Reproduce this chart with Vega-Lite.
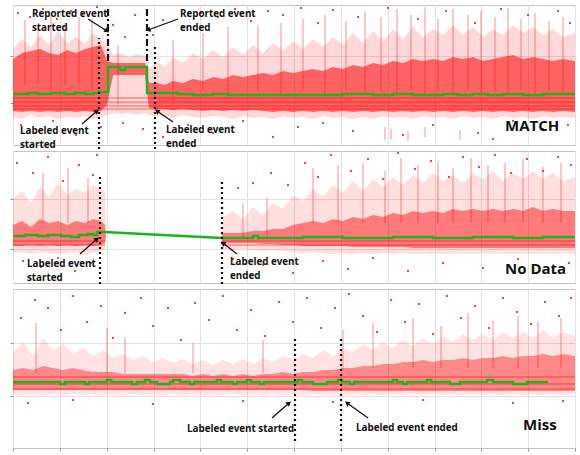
{
"$schema": "https://vega.github.io/schema/vega-lite/v6.json",
"padding": {"left": 7, "top": 4, "right": 5, "bottom": 5},
"bounds": "flush",
"spacing": 6,
"config": {
  "view": {"stroke": "#c4c4c4", "strokeWidth": 1},
  "axis": {"gridColor": "#e2e2e2", "gridWidth": 1, "tickColor": "#999999", "domain": false, "labels": false, "ticks": false},
  "font": "Open Sans"
},
"datasets": {
  "env": [
    {"p":1,"x":0,"hi":96,"lo":28,"chi":86,"clo":34},{"p":1,"x":9,"hi":106,"lo":26,"chi":92,"clo":33},{"p":1,"x":18,"hi":98,"lo":30,"chi":94,"clo":34},{"p":1,"x":27,"hi":110,"lo":27,"chi":96,"clo":33},{"p":1,"x":36,"hi":100,"lo":29,"chi":92,"clo":34},{"p":1,"x":45,"hi":114,"lo":26,"chi":90,"clo":33},{"p":1,"x":54,"hi":102,"lo":28,"chi":95,"clo":34},{"p":1,"x":63,"hi":108,"lo":27,"chi":92,"clo":33},{"p":1,"x":72,"hi":101,"lo":29,"chi":96,"clo":34},{"p":1,"x":80,"hi":112,"lo":26,"chi":98,"clo":33},{"p":1,"x":88,"hi":106,"lo":28,"chi":100,"clo":34},{"p":1,"x":94,"hi":100,"lo":30,"chi":84,"clo":40},{"p":1,"x":100,"hi":90,"lo":32,"chi":82,"clo":70},{"p":1,"x":108,"hi":92,"lo":31,"chi":82,"clo":70},{"p":1,"x":116,"hi":88,"lo":32,"chi":82,"clo":70},{"p":1,"x":124,"hi":91,"lo":30,"chi":82,"clo":70},{"p":1,"x":132,"hi":89,"lo":32,"chi":82,"clo":70},{"p":1,"x":136,"hi":76,"lo":30,"chi":62,"clo":37},{"p":1,"x":144,"hi":84,"lo":28,"chi":62,"clo":36},{"p":1,"x":152,"hi":78,"lo":29,"chi":60,"clo":36},{"p":1,"x":160,"hi":88,"lo":27,"chi":64,"clo":35},{"p":1,"x":170,"hi":82,"lo":30,"chi":62,"clo":36},{"p":1,"x":180,"hi":92,"lo":28,"chi":66,"clo":35},{"p":1,"x":190,"hi":86,"lo":27,"chi":64,"clo":34},{"p":1,"x":200,"hi":95,"lo":29,"chi":68,"clo":35},{"p":1,"x":210,"hi":88,"lo":28,"chi":66,"clo":34},{"p":1,"x":220,"hi":98,"lo":26,"chi":70,"clo":35},{"p":1,"x":230,"hi":90,"lo":29,"chi":68,"clo":34},{"p":1,"x":240,"hi":100,"lo":27,"chi":70,"clo":35},{"p":1,"x":250,"hi":92,"lo":28,"chi":72,"clo":34},{"p":1,"x":260,"hi":102,"lo":26,"chi":70,"clo":33},{"p":1,"x":270,"hi":94,"lo":29,"chi":74,"clo":34},{"p":1,"x":280,"hi":104,"lo":27,"chi":72,"clo":33},{"p":1,"x":290,"hi":96,"lo":28,"chi":74,"clo":34},{"p":1,"x":300,"hi":106,"lo":26,"chi":76,"clo":33},{"p":1,"x":310,"hi":98,"lo":29,"chi":74,"clo":34},{"p":1,"x":320,"hi":108,"lo":27,"chi":78,"clo":33},{"p":1,"x":330,"hi":100,"lo":28,"chi":76,"clo":34},{"p":1,"x":340,"hi":112,"lo":26,"chi":80,"clo":33},{"p":1,"x":350,"hi":102,"lo":28,"chi":78,"clo":34},{"p":1,"x":360,"hi":114,"lo":26,"chi":82,"clo":33},{"p":1,"x":370,"hi":104,"lo":29,"chi":80,"clo":34},{"p":1,"x":380,"hi":116,"lo":27,"chi":84,"clo":33},{"p":1,"x":390,"hi":106,"lo":28,"chi":82,"clo":34},{"p":1,"x":400,"hi":118,"lo":26,"chi":86,"clo":33},{"p":1,"x":410,"hi":108,"lo":29,"chi":84,"clo":34},{"p":1,"x":420,"hi":116,"lo":27,"chi":86,"clo":33},{"p":1,"x":430,"hi":110,"lo":28,"chi":84,"clo":34},{"p":1,"x":440,"hi":120,"lo":26,"chi":88,"clo":33},{"p":1,"x":450,"hi":110,"lo":29,"chi":86,"clo":34},{"p":1,"x":460,"hi":118,"lo":27,"chi":88,"clo":33},{"p":1,"x":470,"hi":108,"lo":28,"chi":84,"clo":34},{"p":1,"x":480,"hi":116,"lo":26,"chi":86,"clo":33},{"p":1,"x":490,"hi":110,"lo":29,"chi":88,"clo":34},{"p":1,"x":500,"hi":120,"lo":27,"chi":90,"clo":33},{"p":1,"x":510,"hi":112,"lo":28,"chi":86,"clo":34},{"p":1,"x":520,"hi":118,"lo":26,"chi":88,"clo":33},{"p":1,"x":530,"hi":110,"lo":29,"chi":86,"clo":34},{"p":1,"x":540,"hi":116,"lo":27,"chi":84,"clo":33},{"p":1,"x":550,"hi":108,"lo":28,"chi":86,"clo":34},{"p":1,"x":562,"hi":112,"lo":27,"chi":84,"clo":33},
    {"p":2,"x":0,"hi":84,"lo":30,"chi":58,"clo":37},{"p":2,"x":9,"hi":92,"lo":31,"chi":62,"clo":37},{"p":2,"x":18,"hi":80,"lo":29,"chi":56,"clo":38},{"p":2,"x":27,"hi":96,"lo":30,"chi":64,"clo":37},{"p":2,"x":36,"hi":86,"lo":31,"chi":60,"clo":38},{"p":2,"x":45,"hi":100,"lo":29,"chi":62,"clo":37},{"p":2,"x":54,"hi":88,"lo":30,"chi":58,"clo":38},{"p":2,"x":63,"hi":94,"lo":31,"chi":62,"clo":37},{"p":2,"x":72,"hi":90,"lo":29,"chi":60,"clo":38},{"p":2,"x":80,"hi":98,"lo":30,"chi":64,"clo":37},{"p":2,"x":88,"hi":94,"lo":32,"chi":62,"clo":38},{"p":2,"x":92,"hi":90,"lo":34,"chi":58,"clo":40},{"p":2,"x":93,"hi":46,"lo":46,"chi":46,"clo":46},{"p":2,"x":208,"hi":46,"lo":46,"chi":46,"clo":46},{"p":2,"x":210,"hi":66,"lo":34,"chi":50,"clo":40},{"p":2,"x":220,"hi":72,"lo":33,"chi":50,"clo":40},{"p":2,"x":230,"hi":64,"lo":34,"chi":50,"clo":40},{"p":2,"x":240,"hi":76,"lo":33,"chi":52,"clo":40},{"p":2,"x":250,"hi":68,"lo":32,"chi":52,"clo":39},{"p":2,"x":260,"hi":80,"lo":33,"chi":54,"clo":39},{"p":2,"x":270,"hi":74,"lo":32,"chi":54,"clo":38},{"p":2,"x":280,"hi":88,"lo":31,"chi":58,"clo":38},{"p":2,"x":290,"hi":82,"lo":30,"chi":60,"clo":37},{"p":2,"x":300,"hi":94,"lo":31,"chi":62,"clo":37},{"p":2,"x":310,"hi":86,"lo":30,"chi":60,"clo":37},{"p":2,"x":320,"hi":98,"lo":29,"chi":64,"clo":37},{"p":2,"x":330,"hi":90,"lo":30,"chi":62,"clo":37},{"p":2,"x":340,"hi":102,"lo":29,"chi":66,"clo":36},{"p":2,"x":350,"hi":92,"lo":30,"chi":64,"clo":36},{"p":2,"x":360,"hi":104,"lo":29,"chi":68,"clo":36},{"p":2,"x":370,"hi":96,"lo":30,"chi":66,"clo":36},{"p":2,"x":380,"hi":106,"lo":29,"chi":70,"clo":36},{"p":2,"x":390,"hi":98,"lo":30,"chi":68,"clo":36},{"p":2,"x":400,"hi":108,"lo":29,"chi":72,"clo":35},{"p":2,"x":410,"hi":100,"lo":30,"chi":70,"clo":35},{"p":2,"x":420,"hi":110,"lo":29,"chi":72,"clo":35},{"p":2,"x":430,"hi":102,"lo":30,"chi":70,"clo":35},{"p":2,"x":440,"hi":108,"lo":29,"chi":74,"clo":35},{"p":2,"x":450,"hi":100,"lo":30,"chi":72,"clo":35},{"p":2,"x":460,"hi":110,"lo":29,"chi":74,"clo":35},{"p":2,"x":470,"hi":104,"lo":30,"chi":72,"clo":35},{"p":2,"x":480,"hi":112,"lo":29,"chi":74,"clo":35},{"p":2,"x":490,"hi":102,"lo":30,"chi":72,"clo":35},{"p":2,"x":500,"hi":110,"lo":29,"chi":74,"clo":35},{"p":2,"x":510,"hi":104,"lo":30,"chi":72,"clo":35},{"p":2,"x":520,"hi":112,"lo":29,"chi":76,"clo":35},{"p":2,"x":530,"hi":104,"lo":30,"chi":72,"clo":35},{"p":2,"x":540,"hi":110,"lo":29,"chi":74,"clo":35},{"p":2,"x":550,"hi":102,"lo":30,"chi":72,"clo":35},{"p":2,"x":562,"hi":106,"lo":29,"chi":72,"clo":35},
    {"p":3,"x":0,"hi":96,"lo":54,"chi":78,"clo":58},{"p":3,"x":10,"hi":106,"lo":53,"chi":80,"clo":58},{"p":3,"x":20,"hi":92,"lo":54,"chi":78,"clo":58},{"p":3,"x":30,"hi":110,"lo":53,"chi":82,"clo":58},{"p":3,"x":40,"hi":98,"lo":54,"chi":80,"clo":58},{"p":3,"x":50,"hi":104,"lo":53,"chi":78,"clo":58},{"p":3,"x":60,"hi":94,"lo":54,"chi":80,"clo":58},{"p":3,"x":70,"hi":100,"lo":53,"chi":78,"clo":58},{"p":3,"x":80,"hi":92,"lo":54,"chi":76,"clo":58},{"p":3,"x":90,"hi":98,"lo":53,"chi":76,"clo":58},{"p":3,"x":100,"hi":90,"lo":54,"chi":76,"clo":58},{"p":3,"x":110,"hi":94,"lo":53,"chi":74,"clo":58},{"p":3,"x":120,"hi":88,"lo":54,"chi":74,"clo":58},{"p":3,"x":130,"hi":92,"lo":53,"chi":74,"clo":58},{"p":3,"x":140,"hi":86,"lo":54,"chi":74,"clo":58},{"p":3,"x":150,"hi":90,"lo":53,"chi":74,"clo":58},{"p":3,"x":160,"hi":85,"lo":54,"chi":74,"clo":58},{"p":3,"x":170,"hi":89,"lo":53,"chi":74,"clo":58},{"p":3,"x":180,"hi":84,"lo":54,"chi":72,"clo":58},{"p":3,"x":190,"hi":88,"lo":53,"chi":74,"clo":58},{"p":3,"x":200,"hi":83,"lo":54,"chi":72,"clo":58},{"p":3,"x":210,"hi":88,"lo":53,"chi":74,"clo":58},{"p":3,"x":220,"hi":84,"lo":54,"chi":72,"clo":58},{"p":3,"x":230,"hi":89,"lo":53,"chi":74,"clo":58},{"p":3,"x":240,"hi":84,"lo":54,"chi":72,"clo":58},{"p":3,"x":250,"hi":90,"lo":53,"chi":74,"clo":58},{"p":3,"x":260,"hi":86,"lo":54,"chi":74,"clo":58},{"p":3,"x":270,"hi":92,"lo":53,"chi":76,"clo":58},{"p":3,"x":280,"hi":88,"lo":54,"chi":74,"clo":58},{"p":3,"x":290,"hi":94,"lo":53,"chi":76,"clo":58},{"p":3,"x":300,"hi":90,"lo":54,"chi":76,"clo":57},{"p":3,"x":310,"hi":98,"lo":53,"chi":78,"clo":57},{"p":3,"x":320,"hi":92,"lo":54,"chi":78,"clo":57},{"p":3,"x":330,"hi":100,"lo":53,"chi":80,"clo":57},{"p":3,"x":340,"hi":96,"lo":54,"chi":80,"clo":57},{"p":3,"x":350,"hi":104,"lo":53,"chi":82,"clo":57},{"p":3,"x":360,"hi":98,"lo":54,"chi":82,"clo":57},{"p":3,"x":370,"hi":106,"lo":53,"chi":84,"clo":57},{"p":3,"x":380,"hi":100,"lo":54,"chi":84,"clo":57},{"p":3,"x":390,"hi":108,"lo":53,"chi":86,"clo":57},{"p":3,"x":400,"hi":102,"lo":54,"chi":86,"clo":57},{"p":3,"x":410,"hi":110,"lo":53,"chi":88,"clo":57},{"p":3,"x":420,"hi":104,"lo":54,"chi":86,"clo":57},{"p":3,"x":430,"hi":112,"lo":53,"chi":88,"clo":57},{"p":3,"x":440,"hi":106,"lo":54,"chi":88,"clo":57},{"p":3,"x":450,"hi":114,"lo":53,"chi":90,"clo":57},{"p":3,"x":460,"hi":108,"lo":54,"chi":88,"clo":57},{"p":3,"x":470,"hi":114,"lo":53,"chi":90,"clo":57},{"p":3,"x":480,"hi":108,"lo":54,"chi":90,"clo":57},{"p":3,"x":490,"hi":116,"lo":53,"chi":92,"clo":57},{"p":3,"x":500,"hi":110,"lo":54,"chi":90,"clo":57},{"p":3,"x":510,"hi":116,"lo":53,"chi":92,"clo":57},{"p":3,"x":520,"hi":110,"lo":54,"chi":92,"clo":57},{"p":3,"x":530,"hi":118,"lo":53,"chi":94,"clo":57},{"p":3,"x":540,"hi":110,"lo":54,"chi":92,"clo":57},{"p":3,"x":550,"hi":116,"lo":53,"chi":94,"clo":57},{"p":3,"x":562,"hi":112,"lo":54,"chi":92,"clo":57}
  ],
  "streaks": [
    {"p":1,"x":0,"x2":562,"y":47},{"p":1,"x":0,"x2":562,"y":43},{"p":1,"x":0,"x2":562,"y":39},{"p":1,"x":0,"x2":562,"y":36},
    {"p":2,"x":0,"x2":92,"y":42},{"p":2,"x":0,"x2":92,"y":38},{"p":2,"x":209,"x2":562,"y":42},{"p":2,"x":209,"x2":562,"y":38},
    {"p":3,"x":0,"x2":562,"y":71},{"p":3,"x":0,"x2":562,"y":64},{"p":3,"x":0,"x2":562,"y":59}
  ],
  "spikes": [
    {"p":1,"x":12,"y":60,"y2":125},{"p":1,"x":25,"y":60,"y2":118},{"p":1,"x":38,"y":55,"y2":130},{"p":1,"x":52,"y":60,"y2":122},{"p":1,"x":66,"y":60,"y2":128},{"p":1,"x":79,"y":55,"y2":126},{"p":1,"x":105,"y":40,"y2":100},{"p":1,"x":160,"y":45,"y2":105},{"p":1,"x":190,"y":55,"y2":112},{"p":1,"x":215,"y":50,"y2":118},{"p":1,"x":245,"y":55,"y2":120},{"p":1,"x":268,"y":50,"y2":122},{"p":1,"x":290,"y":55,"y2":126},{"p":1,"x":312,"y":50,"y2":130},{"p":1,"x":333,"y":55,"y2":124},{"p":1,"x":352,"y":50,"y2":134},{"p":1,"x":368,"y":55,"y2":128},{"p":1,"x":384,"y":50,"y2":136},{"p":1,"x":398,"y":55,"y2":130},{"p":1,"x":412,"y":50,"y2":138},{"p":1,"x":425,"y":55,"y2":126},{"p":1,"x":440,"y":50,"y2":136},{"p":1,"x":455,"y":55,"y2":130},{"p":1,"x":468,"y":50,"y2":134},{"p":1,"x":482,"y":55,"y2":128},{"p":1,"x":495,"y":50,"y2":137},{"p":1,"x":508,"y":55,"y2":126},{"p":1,"x":522,"y":50,"y2":132},{"p":1,"x":536,"y":55,"y2":124},{"p":1,"x":550,"y":50,"y2":128},
    {"p":1,"x":372,"y":5,"y2":18},{"p":1,"x":378,"y":6,"y2":16},{"p":1,"x":395,"y":4,"y2":14},{"p":1,"x":412,"y":8,"y2":18},{"p":1,"x":447,"y":5,"y2":15},
    {"p":2,"x":30,"y":60,"y2":110},{"p":2,"x":55,"y":60,"y2":115},{"p":2,"x":75,"y":60,"y2":105},{"p":2,"x":230,"y":45,"y2":80},{"p":2,"x":254,"y":45,"y2":85},{"p":2,"x":300,"y":60,"y2":115},{"p":2,"x":325,"y":60,"y2":118},{"p":2,"x":350,"y":60,"y2":120},{"p":2,"x":372,"y":60,"y2":112},{"p":2,"x":388,"y":60,"y2":125},{"p":2,"x":405,"y":60,"y2":118},{"p":2,"x":425,"y":60,"y2":122},{"p":2,"x":440,"y":60,"y2":115},{"p":2,"x":458,"y":60,"y2":125},{"p":2,"x":475,"y":60,"y2":118},{"p":2,"x":492,"y":60,"y2":120},{"p":2,"x":510,"y":60,"y2":124},{"p":2,"x":530,"y":60,"y2":116},{"p":2,"x":548,"y":60,"y2":120},
    {"p":3,"x":23,"y":75,"y2":125},{"p":3,"x":94,"y":75,"y2":120},{"p":3,"x":112,"y":75,"y2":110},{"p":3,"x":180,"y":75,"y2":105},{"p":3,"x":250,"y":75,"y2":108},{"p":3,"x":330,"y":78,"y2":118},{"p":3,"x":360,"y":80,"y2":125},{"p":3,"x":400,"y":80,"y2":130},{"p":3,"x":428,"y":80,"y2":122},{"p":3,"x":455,"y":80,"y2":135},{"p":3,"x":480,"y":80,"y2":128},{"p":3,"x":505,"y":80,"y2":132},{"p":3,"x":525,"y":80,"y2":126},{"p":3,"x":548,"y":80,"y2":130}
  ],
  "pts": [
    {"p":1,"x":5,"y":132},{"p":1,"x":17,"y":128},{"p":1,"x":30,"y":136},{"p":1,"x":44,"y":126},{"p":1,"x":58,"y":134},{"p":1,"x":70,"y":131},{"p":1,"x":84,"y":138},{"p":1,"x":100,"y":120},{"p":1,"x":112,"y":108},{"p":1,"x":122,"y":130},{"p":1,"x":140,"y":110},{"p":1,"x":150,"y":125},{"p":1,"x":170,"y":118},{"p":1,"x":188,"y":132},{"p":1,"x":205,"y":128},{"p":1,"x":222,"y":136},{"p":1,"x":238,"y":124},{"p":1,"x":255,"y":134},{"p":1,"x":270,"y":130},{"p":1,"x":288,"y":137},{"p":1,"x":305,"y":122},{"p":1,"x":320,"y":135},{"p":1,"x":345,"y":128},{"p":1,"x":375,"y":137},{"p":1,"x":405,"y":126},{"p":1,"x":433,"y":134},{"p":1,"x":462,"y":122},{"p":1,"x":488,"y":136},{"p":1,"x":515,"y":130},{"p":1,"x":545,"y":134},{"p":1,"x":557,"y":122},
    {"p":1,"x":8,"y":20},{"p":1,"x":26,"y":14},{"p":1,"x":40,"y":24},{"p":1,"x":63,"y":10},{"p":1,"x":88,"y":18},{"p":1,"x":110,"y":22},{"p":1,"x":130,"y":16},{"p":1,"x":150,"y":8},{"p":1,"x":175,"y":20},{"p":1,"x":200,"y":12},{"p":1,"x":230,"y":24},{"p":1,"x":260,"y":8},{"p":1,"x":285,"y":18},{"p":1,"x":310,"y":22},{"p":1,"x":340,"y":14},{"p":1,"x":390,"y":10},{"p":1,"x":420,"y":20},{"p":1,"x":465,"y":12},{"p":1,"x":500,"y":24},{"p":1,"x":530,"y":16},{"p":1,"x":555,"y":20},{"p":1,"x":480,"y":6},
    {"p":2,"x":4,"y":120},{"p":2,"x":20,"y":110},{"p":2,"x":35,"y":126},{"p":2,"x":50,"y":102},{"p":2,"x":66,"y":118},{"p":2,"x":80,"y":108},{"p":2,"x":84,"y":128},{"p":2,"x":225,"y":95},{"p":2,"x":240,"y":100},{"p":2,"x":258,"y":110},{"p":2,"x":275,"y":98},{"p":2,"x":292,"y":120},{"p":2,"x":305,"y":106},{"p":2,"x":318,"y":128},{"p":2,"x":338,"y":112},{"p":2,"x":355,"y":124},{"p":2,"x":370,"y":104},{"p":2,"x":385,"y":130},{"p":2,"x":402,"y":114},{"p":2,"x":418,"y":122},{"p":2,"x":436,"y":106},{"p":2,"x":450,"y":126},{"p":2,"x":466,"y":116},{"p":2,"x":482,"y":128},{"p":2,"x":498,"y":110},{"p":2,"x":514,"y":124},{"p":2,"x":530,"y":112},{"p":2,"x":545,"y":126},{"p":2,"x":558,"y":118},
    {"p":2,"x":10,"y":22},{"p":2,"x":28,"y":16},{"p":2,"x":45,"y":25},{"p":2,"x":62,"y":12},{"p":2,"x":78,"y":20},{"p":2,"x":220,"y":24},{"p":2,"x":250,"y":18},{"p":2,"x":280,"y":10},{"p":2,"x":310,"y":22},{"p":2,"x":335,"y":14},{"p":2,"x":360,"y":25},{"p":2,"x":395,"y":12},{"p":2,"x":430,"y":20},{"p":2,"x":470,"y":15},{"p":2,"x":505,"y":24},{"p":2,"x":540,"y":10},{"p":2,"x":556,"y":20},
    {"p":3,"x":8,"y":130},{"p":3,"x":22,"y":148},{"p":3,"x":35,"y":140},{"p":3,"x":48,"y":118},{"p":3,"x":60,"y":152},{"p":3,"x":74,"y":126},{"p":3,"x":88,"y":142},{"p":3,"x":100,"y":110},{"p":3,"x":112,"y":135},{"p":3,"x":128,"y":150},{"p":3,"x":140,"y":122},{"p":3,"x":155,"y":140},{"p":3,"x":168,"y":108},{"p":3,"x":182,"y":145},{"p":3,"x":196,"y":128},{"p":3,"x":210,"y":152},{"p":3,"x":224,"y":118},{"p":3,"x":238,"y":138},{"p":3,"x":252,"y":112},{"p":3,"x":266,"y":146},{"p":3,"x":280,"y":126},{"p":3,"x":294,"y":150},{"p":3,"x":308,"y":120},{"p":3,"x":322,"y":140},{"p":3,"x":336,"y":154},{"p":3,"x":350,"y":132},{"p":3,"x":364,"y":116},{"p":3,"x":378,"y":148},{"p":3,"x":392,"y":126},{"p":3,"x":406,"y":144},{"p":3,"x":420,"y":114},{"p":3,"x":434,"y":152},{"p":3,"x":448,"y":130},{"p":3,"x":462,"y":142},{"p":3,"x":476,"y":120},{"p":3,"x":490,"y":150},{"p":3,"x":504,"y":136},{"p":3,"x":518,"y":124},{"p":3,"x":532,"y":146},{"p":3,"x":546,"y":132},{"p":3,"x":558,"y":150},
    {"p":3,"x":15,"y":45},{"p":3,"x":60,"y":48},{"p":3,"x":140,"y":44},{"p":3,"x":230,"y":47},{"p":3,"x":320,"y":46},{"p":3,"x":410,"y":48},{"p":3,"x":500,"y":45},{"p":3,"x":550,"y":47}
  ],
  "green": [
    {"p":1,"g":"1","x":0,"y":51},{"p":1,"g":"1","x":15,"y":52},{"p":1,"g":"1","x":25,"y":51},{"p":1,"g":"1","x":38,"y":52},{"p":1,"g":"1","x":52,"y":51},{"p":1,"g":"1","x":62,"y":52},{"p":1,"g":"1","x":72,"y":51},{"p":1,"g":"1","x":80,"y":52},{"p":1,"g":"1","x":86,"y":53},{"p":1,"g":"1","x":95,"y":78},{"p":1,"g":"1","x":107,"y":75},{"p":1,"g":"1","x":112,"y":78},{"p":1,"g":"1","x":134,"y":52},{"p":1,"g":"1","x":150,"y":52},{"p":1,"g":"1","x":165,"y":51},{"p":1,"g":"1","x":180,"y":50},{"p":1,"g":"1","x":200,"y":51},{"p":1,"g":"1","x":215,"y":50},{"p":1,"g":"1","x":260,"y":50},{"p":1,"g":"1","x":300,"y":50},{"p":1,"g":"1","x":330,"y":51},{"p":1,"g":"1","x":360,"y":50},{"p":1,"g":"1","x":380,"y":51},{"p":1,"g":"1","x":400,"y":50},{"p":1,"g":"1","x":430,"y":51},{"p":1,"g":"1","x":445,"y":50},{"p":1,"g":"1","x":460,"y":51},{"p":1,"g":"1","x":475,"y":50},{"p":1,"g":"1","x":490,"y":51},{"p":1,"g":"1","x":510,"y":50},{"p":1,"g":"1","x":530,"y":51},{"p":1,"g":"1","x":562,"y":51},
    {"p":2,"g":"2a","x":0,"y":47},{"p":2,"g":"2a","x":12,"y":48},{"p":2,"g":"2a","x":25,"y":47},{"p":2,"g":"2a","x":35,"y":48},{"p":2,"g":"2a","x":48,"y":47},{"p":2,"g":"2a","x":58,"y":46},{"p":2,"g":"2a","x":66,"y":48},{"p":2,"g":"2a","x":75,"y":49},{"p":2,"g":"2a","x":80,"y":48},{"p":2,"g":"2a","x":84,"y":51},{"p":2,"g":"2a","x":91,"y":51},
    {"p":2,"g":"2b","x":91,"y":51},{"p":2,"g":"2b","x":209,"y":45},
    {"p":2,"g":"2c","x":209,"y":45},{"p":2,"g":"2c","x":230,"y":45},{"p":2,"g":"2c","x":240,"y":47},{"p":2,"g":"2c","x":245,"y":45},{"p":2,"g":"2c","x":290,"y":46},{"p":2,"g":"2c","x":330,"y":45},{"p":2,"g":"2c","x":380,"y":46},{"p":2,"g":"2c","x":420,"y":45},{"p":2,"g":"2c","x":460,"y":46},{"p":2,"g":"2c","x":500,"y":45},{"p":2,"g":"2c","x":530,"y":46},{"p":2,"g":"2c","x":562,"y":46},
    {"p":3,"g":"3","x":0,"y":66},{"p":3,"g":"3","x":47,"y":64},{"p":3,"g":"3","x":52,"y":66},{"p":3,"g":"3","x":72,"y":64},{"p":3,"g":"3","x":76,"y":66},{"p":3,"g":"3","x":94,"y":68},{"p":3,"g":"3","x":98,"y":66},{"p":3,"g":"3","x":119,"y":64},{"p":3,"g":"3","x":124,"y":66},{"p":3,"g":"3","x":132,"y":68},{"p":3,"g":"3","x":137,"y":66},{"p":3,"g":"3","x":144,"y":64},{"p":3,"g":"3","x":157,"y":66},{"p":3,"g":"3","x":160,"y":68},{"p":3,"g":"3","x":167,"y":66},{"p":3,"g":"3","x":177,"y":64},{"p":3,"g":"3","x":181,"y":66},{"p":3,"g":"3","x":204,"y":68},{"p":3,"g":"3","x":208,"y":66},{"p":3,"g":"3","x":220,"y":64},{"p":3,"g":"3","x":224,"y":66},{"p":3,"g":"3","x":234,"y":68},{"p":3,"g":"3","x":238,"y":66},{"p":3,"g":"3","x":247,"y":64},{"p":3,"g":"3","x":251,"y":66},{"p":3,"g":"3","x":285,"y":68},{"p":3,"g":"3","x":289,"y":66},{"p":3,"g":"3","x":300,"y":64},{"p":3,"g":"3","x":314,"y":66},{"p":3,"g":"3","x":325,"y":68},{"p":3,"g":"3","x":329,"y":66},{"p":3,"g":"3","x":337,"y":64},{"p":3,"g":"3","x":341,"y":66},{"p":3,"g":"3","x":380,"y":68},{"p":3,"g":"3","x":384,"y":66},{"p":3,"g":"3","x":390,"y":64},{"p":3,"g":"3","x":394,"y":66},{"p":3,"g":"3","x":414,"y":68},{"p":3,"g":"3","x":418,"y":66},{"p":3,"g":"3","x":437,"y":64},{"p":3,"g":"3","x":447,"y":66},{"p":3,"g":"3","x":474,"y":68},{"p":3,"g":"3","x":480,"y":66},{"p":3,"g":"3","x":500,"y":64},{"p":3,"g":"3","x":514,"y":66},{"p":3,"g":"3","x":535,"y":66}
  ],
  "events": [
    {"p":1,"k":"lab","x":86,"y":-4,"y2":107},{"p":1,"k":"lab","x":142,"y":-4,"y2":101},{"p":1,"k":"rep","x":95,"y":84,"y2":137},{"p":1,"k":"rep","x":134,"y":84,"y2":137},
    {"p":2,"k":"lab","x":87,"y":-1,"y2":107},{"p":2,"k":"lab","x":209,"y":-1,"y2":104},
    {"p":3,"k":"lab","x":282,"y":7,"y2":110},{"p":3,"k":"lab","x":328,"y":7,"y2":110}
  ],
  "arrows": [
    {"p":1,"x":75,"y":126,"x2":94,"y2":114,"a":122},{"p":1,"x":165,"y":126,"x2":135,"y2":115,"a":250},{"p":1,"x":69,"y":21,"x2":84,"y2":34,"a":49},{"p":1,"x":160,"y":23,"x2":144,"y2":34,"a":305},
    {"p":2,"x":67,"y":29,"x2":84,"y2":44,"a":49},{"p":2,"x":224,"y":29,"x2":210,"y2":40,"a":308},
    {"p":3,"x":259,"y":30,"x2":276,"y2":45,"a":49},{"p":3,"x":355,"y":30,"x2":334,"y2":45,"a":305}
  ],
  "notes": [
    {"p":1,"k":"s","x":19,"y":128,"t":"Reported event\nstarted"},{"p":1,"k":"s","x":167,"y":128,"t":"Reported event\nended"},{"p":1,"k":"s","x":7,"y":11,"t":"Labeled event\nstarted"},{"p":1,"k":"s","x":153,"y":12,"t":"Labeled event\nended"},{"p":1,"k":"b","x":492,"y":19,"t":"MATCH"},
    {"p":2,"k":"s","x":14,"y":16,"t":"Labeled event\nstarted"},{"p":2,"k":"s","x":217,"y":18,"t":"Labeled event\nended"},{"p":2,"k":"b","x":492,"y":14,"t":"No Data"},
    {"p":3,"k":"s","x":174,"y":16,"t":"Labeled event started"},{"p":3,"k":"s","x":343,"y":17,"t":"Labeled event ended"},{"p":3,"k":"b","x":510,"y":23,"t":"Miss"}
  ]
},
"vconcat": [
  {
    "width": 562, "height": 140,
    "layer": [
      {"data": {"name": "env"}, "transform": [{"filter": "datum.p == 1"}], "mark": {"type": "area", "color": "#ff0000", "opacity": 0.15},
       "encoding": {"x": {"field": "x", "type": "quantitative", "title": null, "scale": {"domain": [0, 562]}, "axis": {"values": [0,46.83,93.67,140.5,187.33,234.17,281,327.83,374.67,421.5,468.33,515.17,562], "grid": true}},
                    "y": {"field": "hi", "type": "quantitative", "title": null, "scale": {"domain": [0, 140]}, "axis": {"values": [42, 89], "grid": true, "ticks": true, "tickSize": 3}},
                    "y2": {"field": "lo"}}},
      {"data": {"name": "env"}, "transform": [{"filter": "datum.p == 1"}], "mark": {"type": "area", "color": "#ff0000", "opacity": 0.55},
       "encoding": {"x": {"field": "x", "type": "quantitative", "title": null, "scale": {"domain": [0, 562]}}, "y": {"field": "chi", "type": "quantitative", "title": null, "scale": {"domain": [0, 140]}}, "y2": {"field": "clo"}}},
      {"data": {"name": "streaks"}, "transform": [{"filter": "datum.p == 1"}], "mark": {"type": "rule", "color": "#ff0000", "opacity": 0.6, "strokeWidth": 1},
       "encoding": {"x": {"field": "x", "type": "quantitative", "title": null, "scale": {"domain": [0, 562]}}, "x2": {"field": "x2"}, "y": {"field": "y", "type": "quantitative", "title": null, "scale": {"domain": [0, 140]}}}},
      {"data": {"name": "spikes"}, "transform": [{"filter": "datum.p == 1"}], "mark": {"type": "rule", "color": "#ff0000", "opacity": 0.45, "strokeWidth": 1},
       "encoding": {"x": {"field": "x", "type": "quantitative", "title": null, "scale": {"domain": [0, 562]}}, "y": {"field": "y", "type": "quantitative", "title": null, "scale": {"domain": [0, 140]}}, "y2": {"field": "y2"}}},
      {"data": {"name": "pts"}, "transform": [{"filter": "datum.p == 1"}], "mark": {"type": "point", "shape": "square", "filled": true, "size": 4, "color": "#ff0000", "opacity": 0.75},
       "encoding": {"x": {"field": "x", "type": "quantitative", "title": null, "scale": {"domain": [0, 562]}}, "y": {"field": "y", "type": "quantitative", "title": null, "scale": {"domain": [0, 140]}}}},
      {"data": {"name": "green"}, "transform": [{"filter": "datum.p == 1"}], "mark": {"type": "line", "color": "#1db41d", "strokeWidth": 2.5, "interpolate": "step-after"},
       "encoding": {"x": {"field": "x", "type": "quantitative", "title": null, "scale": {"domain": [0, 562]}}, "y": {"field": "y", "type": "quantitative", "title": null, "scale": {"domain": [0, 140]}}, "detail": {"field": "g"}}},
      {"data": {"name": "events"}, "transform": [{"filter": "datum.p == 1 && datum.k == 'lab'"}], "mark": {"type": "rule", "color": "#111111", "strokeWidth": 2.2, "strokeDash": [2, 3]},
       "encoding": {"x": {"field": "x", "type": "quantitative", "title": null, "scale": {"domain": [0, 562]}}, "y": {"field": "y", "type": "quantitative", "title": null, "scale": {"domain": [0, 140]}}, "y2": {"field": "y2"}}},
      {"data": {"name": "events"}, "transform": [{"filter": "datum.p == 1 && datum.k == 'rep'"}], "mark": {"type": "rule", "color": "#111111", "strokeWidth": 2.2, "strokeDash": [7, 3, 2, 3]},
       "encoding": {"x": {"field": "x", "type": "quantitative", "title": null, "scale": {"domain": [0, 562]}}, "y": {"field": "y", "type": "quantitative", "title": null, "scale": {"domain": [0, 140]}}, "y2": {"field": "y2"}}},
      {"data": {"name": "arrows"}, "transform": [{"filter": "datum.p == 1"}], "mark": {"type": "rule", "color": "#111111", "strokeWidth": 1.3},
       "encoding": {"x": {"field": "x", "type": "quantitative", "title": null, "scale": {"domain": [0, 562]}}, "y": {"field": "y", "type": "quantitative", "title": null, "scale": {"domain": [0, 140]}}, "x2": {"field": "x2"}, "y2": {"field": "y2"}}},
      {"data": {"name": "arrows"}, "transform": [{"filter": "datum.p == 1"}], "mark": {"type": "point", "shape": "triangle-up", "filled": true, "size": 32, "color": "#111111", "opacity": 1},
       "encoding": {"x": {"field": "x2", "type": "quantitative", "title": null, "scale": {"domain": [0, 562]}}, "y": {"field": "y2", "type": "quantitative", "title": null, "scale": {"domain": [0, 140]}}, "angle": {"field": "a", "type": "quantitative", "scale": null}}},
      {"data": {"name": "notes"}, "transform": [{"filter": "datum.p == 1 && datum.k == 's'"}], "mark": {"type": "text", "align": "left", "baseline": "alphabetic", "font": "Open Sans", "fontWeight": "bold", "fontSize": 9.8, "lineBreak": "\n", "lineHeight": 13.5, "color": "#111111"},
       "encoding": {"x": {"field": "x", "type": "quantitative", "title": null, "scale": {"domain": [0, 562]}}, "y": {"field": "y", "type": "quantitative", "title": null, "scale": {"domain": [0, 140]}}, "text": {"field": "t"}}},
      {"data": {"name": "notes"}, "transform": [{"filter": "datum.p == 1 && datum.k == 'b'"}], "mark": {"type": "text", "align": "left", "baseline": "middle", "font": "Open Sans", "fontWeight": "bold", "fontSize": 15, "color": "#111111"},
       "encoding": {"x": {"field": "x", "type": "quantitative", "title": null, "scale": {"domain": [0, 562]}}, "y": {"field": "y", "type": "quantitative", "title": null, "scale": {"domain": [0, 140]}}, "text": {"field": "t"}}}
    ]
  },
  {
    "width": 562, "height": 132,
    "layer": [
      {"data": {"name": "env"}, "transform": [{"filter": "datum.p == 2"}], "mark": {"type": "area", "color": "#ff0000", "opacity": 0.13},
       "encoding": {"x": {"field": "x", "type": "quantitative", "title": null, "scale": {"domain": [0, 562]}, "axis": {"values": [0,46.83,93.67,140.5,187.33,234.17,281,327.83,374.67,421.5,468.33,515.17,562], "grid": true}},
                    "y": {"field": "hi", "type": "quantitative", "title": null, "scale": {"domain": [0, 132]}, "axis": {"values": [34, 84], "grid": true, "ticks": true, "tickSize": 3}},
                    "y2": {"field": "lo"}}},
      {"data": {"name": "env"}, "transform": [{"filter": "datum.p == 2"}], "mark": {"type": "area", "color": "#ff0000", "opacity": 0.45},
       "encoding": {"x": {"field": "x", "type": "quantitative", "title": null, "scale": {"domain": [0, 562]}}, "y": {"field": "chi", "type": "quantitative", "title": null, "scale": {"domain": [0, 132]}}, "y2": {"field": "clo"}}},
      {"data": {"name": "streaks"}, "transform": [{"filter": "datum.p == 2"}], "mark": {"type": "rule", "color": "#ff0000", "opacity": 0.6, "strokeWidth": 1},
       "encoding": {"x": {"field": "x", "type": "quantitative", "title": null, "scale": {"domain": [0, 562]}}, "x2": {"field": "x2"}, "y": {"field": "y", "type": "quantitative", "title": null, "scale": {"domain": [0, 132]}}}},
      {"data": {"name": "spikes"}, "transform": [{"filter": "datum.p == 2"}], "mark": {"type": "rule", "color": "#ff0000", "opacity": 0.45, "strokeWidth": 1},
       "encoding": {"x": {"field": "x", "type": "quantitative", "title": null, "scale": {"domain": [0, 562]}}, "y": {"field": "y", "type": "quantitative", "title": null, "scale": {"domain": [0, 132]}}, "y2": {"field": "y2"}}},
      {"data": {"name": "pts"}, "transform": [{"filter": "datum.p == 2"}], "mark": {"type": "point", "shape": "square", "filled": true, "size": 4, "color": "#ff0000", "opacity": 0.75},
       "encoding": {"x": {"field": "x", "type": "quantitative", "title": null, "scale": {"domain": [0, 562]}}, "y": {"field": "y", "type": "quantitative", "title": null, "scale": {"domain": [0, 132]}}}},
      {"data": {"name": "green"}, "transform": [{"filter": "datum.p == 2 && datum.g != '2b'"}], "mark": {"type": "line", "color": "#1db41d", "strokeWidth": 2.5, "interpolate": "step-after"},
       "encoding": {"x": {"field": "x", "type": "quantitative", "title": null, "scale": {"domain": [0, 562]}}, "y": {"field": "y", "type": "quantitative", "title": null, "scale": {"domain": [0, 132]}}, "detail": {"field": "g"}}},
      {"data": {"name": "green"}, "transform": [{"filter": "datum.g == '2b'"}], "mark": {"type": "line", "color": "#1db41d", "strokeWidth": 2.5},
       "encoding": {"x": {"field": "x", "type": "quantitative", "title": null, "scale": {"domain": [0, 562]}}, "y": {"field": "y", "type": "quantitative", "title": null, "scale": {"domain": [0, 132]}}}},
      {"data": {"name": "events"}, "transform": [{"filter": "datum.p == 2"}], "mark": {"type": "rule", "color": "#111111", "strokeWidth": 2.2, "strokeDash": [2, 3]},
       "encoding": {"x": {"field": "x", "type": "quantitative", "title": null, "scale": {"domain": [0, 562]}}, "y": {"field": "y", "type": "quantitative", "title": null, "scale": {"domain": [0, 132]}}, "y2": {"field": "y2"}}},
      {"data": {"name": "arrows"}, "transform": [{"filter": "datum.p == 2"}], "mark": {"type": "rule", "color": "#111111", "strokeWidth": 1.3},
       "encoding": {"x": {"field": "x", "type": "quantitative", "title": null, "scale": {"domain": [0, 562]}}, "y": {"field": "y", "type": "quantitative", "title": null, "scale": {"domain": [0, 132]}}, "x2": {"field": "x2"}, "y2": {"field": "y2"}}},
      {"data": {"name": "arrows"}, "transform": [{"filter": "datum.p == 2"}], "mark": {"type": "point", "shape": "triangle-up", "filled": true, "size": 32, "color": "#111111", "opacity": 1},
       "encoding": {"x": {"field": "x2", "type": "quantitative", "title": null, "scale": {"domain": [0, 562]}}, "y": {"field": "y2", "type": "quantitative", "title": null, "scale": {"domain": [0, 132]}}, "angle": {"field": "a", "type": "quantitative", "scale": null}}},
      {"data": {"name": "notes"}, "transform": [{"filter": "datum.p == 2 && datum.k == 's'"}], "mark": {"type": "text", "align": "left", "baseline": "alphabetic", "font": "Open Sans", "fontWeight": "bold", "fontSize": 9.8, "lineBreak": "\n", "lineHeight": 13.5, "color": "#111111"},
       "encoding": {"x": {"field": "x", "type": "quantitative", "title": null, "scale": {"domain": [0, 562]}}, "y": {"field": "y", "type": "quantitative", "title": null, "scale": {"domain": [0, 132]}}, "text": {"field": "t"}}},
      {"data": {"name": "notes"}, "transform": [{"filter": "datum.p == 2 && datum.k == 'b'"}], "mark": {"type": "text", "align": "left", "baseline": "middle", "font": "Open Sans", "fontWeight": "bold", "fontSize": 15, "color": "#111111"},
       "encoding": {"x": {"field": "x", "type": "quantitative", "title": null, "scale": {"domain": [0, 562]}}, "y": {"field": "y", "type": "quantitative", "title": null, "scale": {"domain": [0, 132]}}, "text": {"field": "t"}}}
    ]
  },
  {
    "width": 562, "height": 159,
    "layer": [
      {"data": {"name": "env"}, "transform": [{"filter": "datum.p == 3"}], "mark": {"type": "area", "color": "#ff0000", "opacity": 0.11},
       "encoding": {"x": {"field": "x", "type": "quantitative", "title": null, "scale": {"domain": [0, 562]}, "axis": {"values": [0,46.83,93.67,140.5,187.33,234.17,281,327.83,374.67,421.5,468.33,515.17,562], "grid": true, "ticks": true, "tickSize": 3}},
                    "y": {"field": "hi", "type": "quantitative", "title": null, "scale": {"domain": [0, 159]}, "axis": {"values": [52, 105], "grid": true, "ticks": true, "tickSize": 3}},
                    "y2": {"field": "lo"}}},
      {"data": {"name": "env"}, "transform": [{"filter": "datum.p == 3"}], "mark": {"type": "area", "color": "#ff0000", "opacity": 0.4},
       "encoding": {"x": {"field": "x", "type": "quantitative", "title": null, "scale": {"domain": [0, 562]}}, "y": {"field": "chi", "type": "quantitative", "title": null, "scale": {"domain": [0, 159]}}, "y2": {"field": "clo"}}},
      {"data": {"name": "streaks"}, "transform": [{"filter": "datum.p == 3"}], "mark": {"type": "rule", "color": "#ff0000", "opacity": 0.6, "strokeWidth": 1},
       "encoding": {"x": {"field": "x", "type": "quantitative", "title": null, "scale": {"domain": [0, 562]}}, "x2": {"field": "x2"}, "y": {"field": "y", "type": "quantitative", "title": null, "scale": {"domain": [0, 159]}}}},
      {"data": {"name": "spikes"}, "transform": [{"filter": "datum.p == 3"}], "mark": {"type": "rule", "color": "#ff0000", "opacity": 0.45, "strokeWidth": 1},
       "encoding": {"x": {"field": "x", "type": "quantitative", "title": null, "scale": {"domain": [0, 562]}}, "y": {"field": "y", "type": "quantitative", "title": null, "scale": {"domain": [0, 159]}}, "y2": {"field": "y2"}}},
      {"data": {"name": "pts"}, "transform": [{"filter": "datum.p == 3"}], "mark": {"type": "point", "shape": "square", "filled": true, "size": 4, "color": "#ff0000", "opacity": 0.75},
       "encoding": {"x": {"field": "x", "type": "quantitative", "title": null, "scale": {"domain": [0, 562]}}, "y": {"field": "y", "type": "quantitative", "title": null, "scale": {"domain": [0, 159]}}}},
      {"data": {"name": "green"}, "transform": [{"filter": "datum.p == 3"}], "mark": {"type": "line", "color": "#1db41d", "strokeWidth": 2.5, "interpolate": "step-after"},
       "encoding": {"x": {"field": "x", "type": "quantitative", "title": null, "scale": {"domain": [0, 562]}}, "y": {"field": "y", "type": "quantitative", "title": null, "scale": {"domain": [0, 159]}}, "detail": {"field": "g"}}},
      {"data": {"name": "events"}, "transform": [{"filter": "datum.p == 3"}], "mark": {"type": "rule", "color": "#111111", "strokeWidth": 2.2, "strokeDash": [2, 3]},
       "encoding": {"x": {"field": "x", "type": "quantitative", "title": null, "scale": {"domain": [0, 562]}}, "y": {"field": "y", "type": "quantitative", "title": null, "scale": {"domain": [0, 159]}}, "y2": {"field": "y2"}}},
      {"data": {"name": "arrows"}, "transform": [{"filter": "datum.p == 3"}], "mark": {"type": "rule", "color": "#111111", "strokeWidth": 1.3},
       "encoding": {"x": {"field": "x", "type": "quantitative", "title": null, "scale": {"domain": [0, 562]}}, "y": {"field": "y", "type": "quantitative", "title": null, "scale": {"domain": [0, 159]}}, "x2": {"field": "x2"}, "y2": {"field": "y2"}}},
      {"data": {"name": "arrows"}, "transform": [{"filter": "datum.p == 3"}], "mark": {"type": "point", "shape": "triangle-up", "filled": true, "size": 32, "color": "#111111", "opacity": 1},
       "encoding": {"x": {"field": "x2", "type": "quantitative", "title": null, "scale": {"domain": [0, 562]}}, "y": {"field": "y2", "type": "quantitative", "title": null, "scale": {"domain": [0, 159]}}, "angle": {"field": "a", "type": "quantitative", "scale": null}}},
      {"data": {"name": "notes"}, "transform": [{"filter": "datum.p == 3 && datum.k == 's'"}], "mark": {"type": "text", "align": "left", "baseline": "alphabetic", "font": "Open Sans", "fontWeight": "bold", "fontSize": 9.8, "lineBreak": "\n", "lineHeight": 13.5, "color": "#111111"},
       "encoding": {"x": {"field": "x", "type": "quantitative", "title": null, "scale": {"domain": [0, 562]}}, "y": {"field": "y", "type": "quantitative", "title": null, "scale": {"domain": [0, 159]}}, "text": {"field": "t"}}},
      {"data": {"name": "notes"}, "transform": [{"filter": "datum.p == 3 && datum.k == 'b'"}], "mark": {"type": "text", "align": "left", "baseline": "middle", "font": "Open Sans", "fontWeight": "bold", "fontSize": 15, "color": "#111111"},
       "encoding": {"x": {"field": "x", "type": "quantitative", "title": null, "scale": {"domain": [0, 562]}}, "y": {"field": "y", "type": "quantitative", "title": null, "scale": {"domain": [0, 159]}}, "text": {"field": "t"}}}
    ]
  }
]
}
